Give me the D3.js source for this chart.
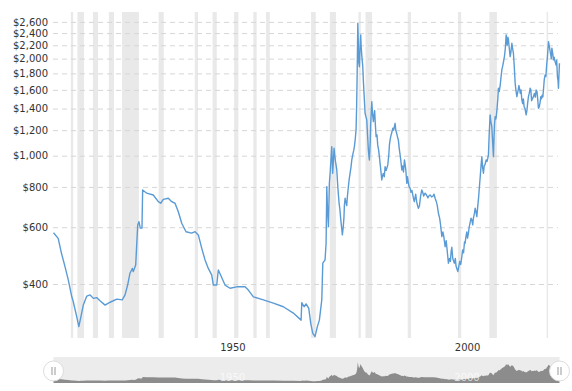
<!DOCTYPE html>
<html>
<head>
<meta charset="utf-8">
<script src="https://cdn.jsdelivr.net/npm/d3@7"></script>
<style>
  body { margin: 0; background: #fff; }
  text { font-family: "DejaVu Sans", Verdana, sans-serif; }
</style>
</head>
<body>
<script>
// gold price, inflation adjusted: [year, price]
const pricePoints = [
  [1915.0, 577], [1916.0, 554], [1916.7, 498], [1917.45, 453], [1918.15, 412], [1918.9, 365],
  [1919.2, 353], [1919.95, 317], [1920.4, 295], [1920.85, 317], [1921.35, 344], [1922.1, 367],
  [1922.8, 370], [1923.5, 361], [1924.2, 363], [1924.9, 355], [1926.0, 344], [1926.7, 349],
  [1927.4, 353], [1928.5, 359], [1929.65, 357], [1930.25, 370], [1930.8, 397], [1931.3, 432],
  [1931.8, 447], [1932.0, 437], [1932.52, 458], [1932.95, 610], [1933.2, 624], [1933.5, 596],
  [1933.86, 596], [1934.0, 783], [1934.87, 765], [1936.27, 755], [1937.34, 720], [1937.85, 712],
  [1938.4, 732], [1939.47, 738], [1940.2, 720], [1940.9, 712], [1941.6, 670], [1942.33, 617],
  [1943.25, 581], [1944.46, 575], [1945.17, 581], [1945.87, 568], [1946.6, 516], [1947.3, 475],
  [1948.0, 447], [1948.73, 426], [1949.07, 397], [1949.79, 397], [1950.13, 442], [1950.64, 426],
  [1951.56, 397], [1952.63, 388], [1954.06, 392], [1955.83, 392], [1956.53, 383], [1957.6, 365],
  [1959.73, 357], [1961.86, 349], [1963.99, 340], [1966.12, 325], [1967.77, 309], [1967.92, 350],
  [1968.41, 340], [1968.83, 347], [1969.41, 336], [1969.83, 302], [1970.26, 281], [1970.75, 275],
  [1971.24, 295], [1971.67, 309], [1972.18, 357], [1972.4, 464], [1972.88, 475], [1973.1, 535],
  [1973.25, 801], [1973.4, 680], [1973.6, 602], [1973.8, 821], [1974.0, 900], [1974.15, 980],
  [1974.31, 1067], [1974.5, 882], [1974.65, 960], [1974.8, 1054], [1974.95, 1000], [1975.1, 960],
  [1975.25, 930], [1975.38, 903], [1975.6, 800], [1975.87, 712], [1976.05, 680], [1976.2, 640],
  [1976.4, 600], [1976.57, 568], [1976.75, 600], [1976.9, 640], [1977.0, 700], [1977.15, 738],
  [1977.3, 720], [1977.5, 700], [1977.65, 750], [1977.85, 801], [1978.0, 840], [1978.2, 880],
  [1978.4, 920], [1978.58, 970], [1978.8, 1010], [1979.0, 1040], [1979.13, 1067], [1979.3, 1120],
  [1979.49, 1202], [1979.6, 1400], [1979.7, 1700], [1979.8, 2200], [1979.86, 2575], [1979.95, 2300],
  [1980.05, 1950], [1980.2, 1888], [1980.3, 2100], [1980.4, 2250], [1980.48, 2369], [1980.56, 2200],
  [1980.7, 2050], [1980.92, 1888], [1981.05, 1700], [1981.15, 1600], [1981.3, 1450], [1981.41, 1354],
  [1981.6, 1320], [1981.77, 1291], [1981.95, 1150], [1982.1, 1050], [1982.25, 990], [1982.33, 970],
  [1982.5, 1100], [1982.6, 1250], [1982.75, 1380], [1982.84, 1471], [1983.0, 1350], [1983.18, 1275],
  [1983.3, 1330], [1983.45, 1380], [1983.6, 1250], [1983.76, 1146], [1983.95, 1160], [1984.1, 1080],
  [1984.3, 1040], [1984.46, 993], [1984.7, 920], [1984.97, 841], [1985.15, 870], [1985.3, 880],
  [1985.5, 860], [1985.68, 925], [1985.9, 900], [1986.1, 920], [1986.25, 936], [1986.45, 1000],
  [1986.6, 1080], [1986.74, 1119], [1986.9, 1150], [1987.1, 1180], [1987.32, 1216], [1987.5, 1200],
  [1987.65, 1230], [1987.81, 1260], [1987.95, 1200], [1988.1, 1180], [1988.3, 1146], [1988.5, 1119],
  [1988.7, 1050], [1988.88, 1005], [1989.05, 960], [1989.24, 903], [1989.4, 930], [1989.6, 890],
  [1989.8, 970], [1989.95, 940], [1990.1, 900], [1990.3, 821], [1990.45, 860], [1990.6, 830],
  [1990.8, 800], [1991.01, 793], [1991.2, 770], [1991.4, 780], [1991.71, 738], [1991.9, 720],
  [1992.2, 760], [1992.4, 720], [1992.6, 700], [1992.78, 687], [1993.0, 700], [1993.25, 750],
  [1993.5, 783], [1993.7, 770], [1993.9, 750], [1994.21, 765], [1994.5, 755], [1994.8, 740],
  [1995.0, 750], [1995.27, 755], [1995.6, 745], [1995.9, 750], [1996.1, 760], [1996.34, 738],
  [1996.6, 720], [1996.8, 700], [1997.04, 663], [1997.3, 640], [1997.5, 610], [1997.77, 561],
  [1998.0, 580], [1998.2, 560], [1998.47, 522], [1998.7, 545], [1998.9, 510], [1999.17, 464],
  [1999.4, 480], [1999.6, 470], [1999.75, 504], [1999.9, 520], [2000.1, 480], [2000.3, 470],
  [2000.45, 464], [2000.65, 480], [2000.8, 455], [2001.0, 445], [2001.18, 437], [2001.4, 455],
  [2001.6, 470], [2001.8, 460], [2002.03, 486], [2002.2, 510], [2002.4, 500], [2002.6, 540],
  [2002.73, 535], [2002.9, 560], [2003.1, 580], [2003.25, 555], [2003.44, 575], [2003.6, 600],
  [2003.8, 620], [2004.0, 640], [2004.16, 632], [2004.35, 610], [2004.5, 640], [2004.7, 660],
  [2004.87, 687], [2005.05, 670], [2005.23, 647], [2005.4, 690], [2005.6, 740], [2005.78, 801],
  [2005.95, 860], [2006.15, 940], [2006.3, 993], [2006.45, 920], [2006.64, 882], [2006.8, 930],
  [2007.0, 940], [2007.21, 970], [2007.4, 960], [2007.55, 980], [2007.7, 1005], [2007.85, 1150],
  [2008.06, 1338], [2008.2, 1280], [2008.42, 1230], [2008.6, 1100], [2008.77, 993], [2008.9, 1150],
  [2009.0, 1250], [2009.13, 1322], [2009.3, 1300], [2009.5, 1380], [2009.7, 1500], [2009.83, 1619],
  [2010.0, 1580], [2010.2, 1650], [2010.4, 1760], [2010.56, 1845], [2010.75, 1900], [2010.9, 1950],
  [2011.11, 2029], [2011.3, 2150], [2011.48, 2369], [2011.6, 2250], [2011.7, 2200], [2011.85, 2330],
  [2011.97, 2285], [2012.15, 2150], [2012.33, 2029], [2012.5, 2100], [2012.7, 2232], [2012.85, 2150],
  [2013.03, 2078], [2013.2, 1900], [2013.4, 1678], [2013.55, 1600], [2013.76, 1524], [2013.9, 1560],
  [2014.05, 1600], [2014.2, 1650], [2014.31, 1619], [2014.5, 1560], [2014.65, 1600], [2014.82, 1489],
  [2015.0, 1450], [2015.15, 1500], [2015.31, 1419], [2015.5, 1400], [2015.74, 1338], [2015.9, 1380],
  [2016.05, 1450], [2016.23, 1524], [2016.4, 1560], [2016.6, 1620], [2016.74, 1599], [2016.9, 1480],
  [2017.05, 1500], [2017.3, 1524], [2017.5, 1560], [2017.7, 1520], [2017.87, 1599], [2018.05, 1580],
  [2018.2, 1500], [2018.36, 1403], [2018.55, 1420], [2018.7, 1460], [2018.87, 1524], [2019.0, 1500],
  [2019.15, 1540], [2019.3, 1520], [2019.43, 1599], [2019.6, 1720], [2019.79, 1780], [2019.95, 1760],
  [2020.1, 1900], [2020.28, 2029], [2020.4, 2150], [2020.5, 2258], [2020.65, 2200], [2020.86, 2102],
  [2021.0, 2050], [2021.1, 2000], [2021.22, 2154], [2021.4, 2080], [2021.56, 1981], [2021.7, 2020],
  [2021.9, 1960], [2022.13, 1912], [2022.25, 1980], [2022.41, 1758], [2022.55, 1700], [2022.63, 1619],
  [2022.75, 1800], [2022.84, 1935]
];

// US recessions (start, end)
const recessionStart = [1918.7, 1920.1, 1923.4, 1926.8, 1929.6, 1937.4, 1945.1, 1948.9, 1953.5,
  1957.6, 1960.3, 1969.9, 1973.9, 1980.0, 1981.5, 1990.5, 2001.2, 2007.9, 2020.1];
const recessionEnd = [1919.2, 1921.5, 1924.5, 1927.9, 1933.2, 1938.5, 1945.8, 1949.8, 1954.4,
  1958.3, 1961.1, 1970.9, 1975.2, 1980.5, 1982.9, 1991.2, 2001.9, 2009.5, 2020.3];

const yTicks = [400, 600, 800, 1000, 1200, 1400, 1600, 1800, 2000, 2200, 2400, 2600];
const xTicks = [1950, 2000];

const W = 572, H = 391;
const svg = d3.select("body").append("svg")
    .attr("width", W)
    .attr("height", H);

const data = pricePoints.map(p => ({year: p[0], price: p[1]}));

const x = d3.scaleLinear().domain([1915, 2022.85]).range([53.5, 559.5]);
const y = d3.scaleLog().domain([272, 2790]).range([338, 12]);

// recession bands
svg.append("g").selectAll("rect")
    .data(recessionStart)
    .enter()
    .append("rect")
    .attr("x", (d) => x(d))
    .attr("y", 12)
    .attr("width", (d, i) => Math.max(1.5, x(recessionEnd[i]) - x(d)))
    .attr("height", 326)
    .attr("fill", "#e9e9e9");

// horizontal grid + y labels
const yAxis = d3.axisLeft(y)
    .tickValues(yTicks)
    .tickFormat(d => "$" + d3.format(",")(d))
    .tickSize(-505)
    .tickPadding(5);

const gy = svg.append("g")
    .attr("transform", "translate(53,0)")
    .call(yAxis);
gy.select(".domain").remove();
gy.selectAll(".tick line")
    .attr("stroke", "#d6d6d6")
    .attr("stroke-dasharray", "5,4");
gy.selectAll(".tick text")
    .attr("fill", "#333")
    .attr("font-size", "10px")
    .attr("font-family", "DejaVu Sans, Verdana, sans-serif");

// x labels
const xAxis = d3.axisBottom(x)
    .tickValues(xTicks)
    .tickFormat(d3.format("d"))
    .tickSize(0)
    .tickPadding(0);
const gx = svg.append("g")
    .attr("transform", "translate(0,344)")
    .call(xAxis);
gx.select(".domain").remove();
gx.selectAll(".tick text")
    .attr("text-anchor", "start")
    .attr("dx", 2)
    .attr("fill", "#333")
    .attr("font-size", "10px")
    .attr("font-family", "DejaVu Sans, Verdana, sans-serif");

// price line
const line = d3.line()
    .x(d => x(d.year))
    .y(d => y(d.price));

svg.append("path")
    .datum(data)
    .attr("d", line)
    .attr("fill", "none")
    .attr("stroke", "#5b9bd5")
    .attr("stroke-width", 1.4)
    .attr("stroke-linejoin", "round");

// navigator / scrollbar
const navY = d3.scaleLinear().domain([180, 2600]).range([382, 362]);
svg.append("rect")
    .attr("x", x(1915))
    .attr("y", 357)
    .attr("width", x(2022.85) - x(1915))
    .attr("height", 26)
    .attr("fill", "#ececec");

const area = d3.area()
    .x(d => x(d.year))
    .y0(383)
    .y1(d => navY(d.price));
svg.append("path")
    .datum(data)
    .attr("d", area)
    .attr("fill", "#8c8c8c");

svg.append("g").selectAll("text")
    .data(xTicks)
    .enter()
    .append("text")
    .attr("x", d => x(d) + 2)
    .attr("y", 381)
    .attr("fill", "#fff")
    .attr("fill-opacity", 0.7)
    .attr("font-size", "10px")
    .text(d => d);

const handles = svg.append("g").selectAll("g")
    .data([1915, 2022.85])
    .enter()
    .append("g")
    .attr("transform", d => `translate(${x(d)},371)`);
handles.append("circle")
    .attr("r", 10)
    .attr("fill", "#fff")
    .attr("stroke", "#ddd");
handles.append("line")
    .attr("x1", -1.5).attr("x2", -1.5).attr("y1", -4).attr("y2", 4)
    .attr("stroke", "#999");
handles.append("line")
    .attr("x1", 1.5).attr("x2", 1.5).attr("y1", -4).attr("y2", 4)
    .attr("stroke", "#999");
</script>
</body>
</html>
